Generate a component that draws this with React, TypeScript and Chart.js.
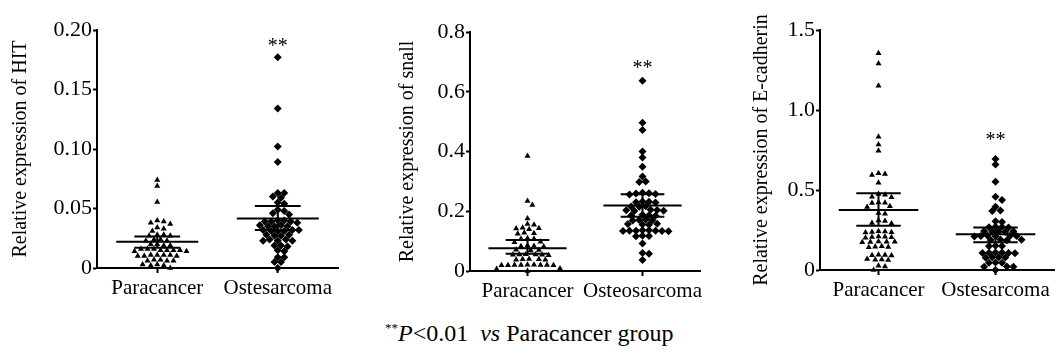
import React, { useEffect, useRef } from "react";
import { Chart, registerables } from "chart.js";

Chart.register(...registerables);

// ---------- DATA ----------
const categoriesHIT = ["Paracancer", "Ostesarcoma"];
const categoriesSnall = ["Paracancer", "Osteosarcoma"];
const categoriesEcad = ["Paracancer", "Ostesarcoma"];

const hitParacancer = [
  0.074, 0.069, 0.0555,
  0.04, 0.039, 0.038, 0.037,
  0.034, 0.033, 0.031,
  0.028, 0.028, 0.027, 0.027,
  0.024, 0.024, 0.023, 0.023,
  0.02, 0.02, 0.019, 0.019,
  0.016, 0.016, 0.016, 0.015, 0.015, 0.015, 0.015, 0.014, 0.014,
  0.011, 0.011, 0.011, 0.011, 0.01, 0.01, 0.01,
  0.007, 0.007, 0.006, 0.006, 0.006,
  0.003, 0.003, 0.002, 0.002,
  0.0,
];
const hitOsteo = [
  0.177, 0.134, 0.102, 0.089,
  0.063, 0.063, 0.06, 0.059, 0.055, 0.054, 0.049, 0.048, 0.046, 0.045,
  0.04, 0.04, 0.039, 0.039, 0.039, 0.038,
  0.036, 0.036, 0.035, 0.035, 0.035,
  0.032, 0.032, 0.032, 0.031, 0.031, 0.031,
  0.028, 0.028, 0.027, 0.027,
  0.024, 0.024, 0.023, 0.023, 0.023,
  0.019, 0.019, 0.018,
  0.015, 0.014,
  0.009, 0.009,
  0.005, 0.005,
  0.0,
];
const hitMean = [0.022, 0.0415];
const hitUpper = [0.0265, 0.052];
const hitLower = [0.017, 0.032];
const hitTicks = [0, 0.05, 0.1, 0.15, 0.2];
const hitStar = 0.189;

const snallParacancer = [
  0.385, 0.234, 0.221, 0.176,
  0.157, 0.155,
  0.145, 0.143, 0.142, 0.14,
  0.128, 0.126, 0.125,
  0.11, 0.108, 0.107,
  0.098, 0.096,
  0.085, 0.084, 0.083, 0.082,
  0.071, 0.07, 0.069,
  0.056, 0.055, 0.055, 0.054, 0.054, 0.053,
  0.04, 0.039, 0.039, 0.038, 0.038,
  0.021, 0.021, 0.02, 0.02, 0.02, 0.02, 0.019, 0.019, 0.019,
  0.008, 0.007,
  0.0,
];
const snallOsteo = [
  0.637, 0.496, 0.472, 0.4, 0.38, 0.349,
  0.316, 0.3, 0.298,
  0.262, 0.26, 0.259, 0.258, 0.256,
  0.233, 0.232, 0.23, 0.229,
  0.217, 0.216, 0.215,
  0.205, 0.204, 0.203, 0.202, 0.201,
  0.188, 0.187, 0.186, 0.185,
  0.172, 0.171, 0.17, 0.169,
  0.158, 0.157, 0.156, 0.155,
  0.136, 0.136, 0.135, 0.135, 0.135, 0.134, 0.134, 0.133,
  0.118, 0.117, 0.116,
  0.092,
  0.06, 0.058,
  0.037,
];
const snallMean = [0.076, 0.219];
const snallUpper = [0.104, 0.257];
const snallLower = [0.058, 0.182];
const snallTicks = [0, 0.2, 0.4, 0.6, 0.8];
const snallStar = 0.69;

const ecadParacancer = [
  1.354, 1.29, 1.152, 0.833, 0.785, 0.746,
  0.604, 0.6, 0.594, 0.546,
  0.475, 0.47, 0.458, 0.455,
  0.422, 0.42, 0.418,
  0.398, 0.394,
  0.356, 0.352,
  0.31, 0.306, 0.293, 0.29,
  0.242, 0.24, 0.238, 0.236, 0.234,
  0.21, 0.208, 0.206, 0.204, 0.202,
  0.178, 0.177, 0.176, 0.175, 0.174,
  0.148, 0.146, 0.144, 0.142,
  0.096, 0.094, 0.092, 0.09,
  0.068, 0.066, 0.064, 0.062,
  0.026, 0.022,
  0.0,
];
const ecadOsteo = [
  0.694, 0.66, 0.552, 0.458, 0.438, 0.396,
  0.372, 0.368,
  0.304, 0.3,
  0.27, 0.268, 0.267, 0.265,
  0.243, 0.242, 0.24, 0.239, 0.237,
  0.215, 0.214, 0.213, 0.212, 0.211, 0.21,
  0.19, 0.189, 0.187, 0.186,
  0.152, 0.15, 0.148,
  0.11, 0.109, 0.108, 0.107, 0.106, 0.105,
  0.08, 0.079, 0.078, 0.077,
  0.047, 0.046, 0.045,
  0.022, 0.021, 0.02,
  0.0,
];
const ecadMean = [0.375, 0.223];
const ecadUpper = [0.479, 0.265];
const ecadLower = [0.277, 0.173];
const ecadTicks = [0, 0.5, 1.0, 1.5];
const ecadStar = 0.83;

// ---------- STYLE / LAYOUT ----------
const FONT = "'Liberation Serif', 'Times New Roman', serif";
const MEAN_HALF = 0.34;
const SEM_HALF = 0.19;
const SWARM_SX = 6.5;
const SWARM_SY = 5;
const SWARM_STEP = 1.625;

type Panel = {
  left: number;
  width: number;
  height: number;
  yWidth: number;
  xHeight: number;
  padTop: number;
  padRight: number;
  titlePad: number;
  title: string;
  cats: string[];
  a: number[];
  b: number[];
  mean: number[];
  upper: number[];
  lower: number[];
  ticks: number[];
  decimals: number;
  star: number;
};

const panels: Panel[] = [
  {
    left: 0, width: 345, height: 310, yWidth: 97, xHeight: 42, padTop: 30, padRight: 7, titlePad: 9,
    title: "Relative expression of HIT", cats: categoriesHIT, a: hitParacancer, b: hitOsteo,
    mean: hitMean, upper: hitUpper, lower: hitLower, ticks: hitTicks, decimals: 2, star: hitStar,
  },
  {
    left: 385, width: 360, height: 310, yWidth: 85, xHeight: 39, padTop: 32, padRight: 45, titlePad: 11,
    title: "Relative expression of snall", cats: categoriesSnall, a: snallParacancer, b: snallOsteo,
    mean: snallMean, upper: snallUpper, lower: snallLower, ticks: snallTicks, decimals: 1, star: snallStar,
  },
  {
    left: 740, width: 318, height: 310, yWidth: 80, xHeight: 40, padTop: 30, padRight: 0, titlePad: 10,
    title: "Relative expression of E-cadherin", cats: categoriesEcad, a: ecadParacancer, b: ecadOsteo,
    mean: ecadMean, upper: ecadUpper, lower: ecadLower, ticks: ecadTicks, decimals: 1, star: ecadStar,
  },
];

function swarm(values: number[], center: number, xs: any, ys: any) {
  const cx = xs.getPixelForValue(center);
  const placed: { px: number; py: number }[] = [];
  const order = values.map((_, i) => i).sort((i, j) => values[j] - values[i]);
  const out: { x: number; y: number }[] = new Array(values.length);
  for (const i of order) {
    const py = ys.getPixelForValue(values[i]);
    let px = cx;
    for (let step = 0; step < 400; step++) {
      const k = Math.ceil(step / 2);
      const off = step === 0 ? 0 : (step % 2 ? 1 : -1) * k * SWARM_STEP;
      const cand = cx + off;
      const ok = placed.every((p) => {
        const dx = (p.px - cand) / SWARM_SX;
        const dy = (p.py - py) / SWARM_SY;
        return dx * dx + dy * dy >= 0.999;
      });
      if (ok) {
        px = cand;
        break;
      }
    }
    placed.push({ px, py });
    out[i] = { x: xs.getValueForPixel(px), y: values[i] };
  }
  return out;
}

function seg(x0: number, y0: number, x1: number, y1: number) {
  return {
    data: [
      { x: x0, y: y0 },
      { x: x1, y: y1 },
    ],
    showLine: true,
    borderColor: "#000",
    borderWidth: 2,
    pointRadius: 0,
    clip: false as any,
  };
}

function PanelChart({ p }: { p: Panel }) {
  const ref = useRef<HTMLCanvasElement | null>(null);
  useEffect(() => {
    if (!ref.current) return;
    const lines: any[] = [];
    [0, 1].forEach((g) => {
      lines.push(seg(g - MEAN_HALF, p.mean[g], g + MEAN_HALF, p.mean[g]));
      lines.push(seg(g - SEM_HALF, p.upper[g], g + SEM_HALF, p.upper[g]));
      lines.push(seg(g - SEM_HALF, p.lower[g], g + SEM_HALF, p.lower[g]));
      lines.push(seg(g, p.lower[g], g, p.upper[g]));
    });
    const starPlugin = {
      id: "stars",
      afterDatasetsDraw(chart: any) {
        const ctx = chart.ctx;
        ctx.save();
        ctx.font = `20px ${FONT}`;
        ctx.fillStyle = "#000";
        ctx.textAlign = "center";
        ctx.textBaseline = "alphabetic";
        ctx.fillText("**", chart.scales.x.getPixelForValue(1), chart.scales.y.getPixelForValue(p.star) + 9);
        ctx.restore();
      },
    };
    const chart = new Chart(ref.current, {
      type: "scatter",
      data: {
        datasets: [
          {
            data: p.a.map((v) => ({ x: 0, y: v })),
            pointStyle: "triangle",
            pointRadius: 3.5,
            backgroundColor: "#000",
            borderColor: "#000",
            borderWidth: 0,
            clip: false as any,
          },
          {
            data: p.b.map((v) => ({ x: 1, y: v })),
            pointStyle: "rectRot",
            pointRadius: 4,
            backgroundColor: "#000",
            borderColor: "#000",
            borderWidth: 0,
            clip: false as any,
          },
          ...lines,
        ],
      },
      options: {
        animation: false,
        responsive: false,
        events: [],
        layout: { padding: { top: p.padTop, right: p.padRight, left: 0, bottom: 0 } },
        plugins: { legend: { display: false }, tooltip: { enabled: false } },
        scales: {
          x: {
            type: "linear",
            min: -0.5,
            max: 1.5,
            afterBuildTicks: (s: any) => {
              s.ticks = [{ value: 0 }, { value: 1 }];
            },
            afterFit: (s: any) => {
              s.height = p.xHeight;
            },
            ticks: {
              autoSkip: false,
              maxRotation: 0,
              padding: 3,
              color: "#000",
              font: { family: FONT, size: 21 },
              callback: (_v: any, i: number) => p.cats[i],
            },
            grid: { drawOnChartArea: false, drawTicks: true, tickLength: 5, tickColor: "#000", tickWidth: 2 },
            border: { display: true, color: "#000", width: 2 },
          },
          y: {
            type: "linear",
            min: 0,
            max: p.ticks[p.ticks.length - 1],
            afterBuildTicks: (s: any) => {
              s.ticks = p.ticks.map((v) => ({ value: v }));
            },
            afterFit: (s: any) => {
              s.width = p.yWidth;
            },
            ticks: {
              padding: 1,
              color: "#000",
              font: { family: FONT, size: 22 },
              callback: (v: any) => (Number(v) === 0 ? "0" : Number(v).toFixed(p.decimals)),
            },
            grid: { drawOnChartArea: false, drawTicks: true, tickLength: 4, tickColor: "#000", tickWidth: 2 },
            border: { display: true, color: "#000", width: 2 },
            title: {
              display: true,
              text: p.title,
              color: "#000",
              font: { family: FONT, size: 20 },
              padding: { top: p.titlePad, bottom: 0 },
            },
          },
        },
      } as any,
      plugins: [starPlugin],
    });
    const xs = chart.scales.x;
    const ys = chart.scales.y;
    chart.data.datasets[0].data = swarm(p.a, 0, xs, ys) as any;
    chart.data.datasets[1].data = swarm(p.b, 1, xs, ys) as any;
    chart.update("none");
    return () => chart.destroy();
  }, [p]);
  return (
    <div style={{ position: "absolute", left: p.left, top: 0, width: p.width, height: p.height }}>
      <canvas ref={ref} width={p.width} height={p.height} />
    </div>
  );
}

export default function App() {
  return (
    <div style={{ position: "absolute", left: 0, top: 0, width: 1058, height: 353, background: "#fff", overflow: "hidden" }}>
      {panels.map((p, i) => (
        <PanelChart key={i} p={p} />
      ))}
      <div
        style={{
          position: "absolute",
          left: 385,
          top: 319,
          fontFamily: FONT,
          fontSize: 24,
          whiteSpace: "nowrap",
          color: "#000",
          lineHeight: "28px",
        }}
      >
        <span style={{ fontSize: 13, position: "relative", top: -9 }}>**</span>
        <i>P</i>&lt;0.01&nbsp; <i>vs</i> Paracancer group
      </div>
    </div>
  );
}
